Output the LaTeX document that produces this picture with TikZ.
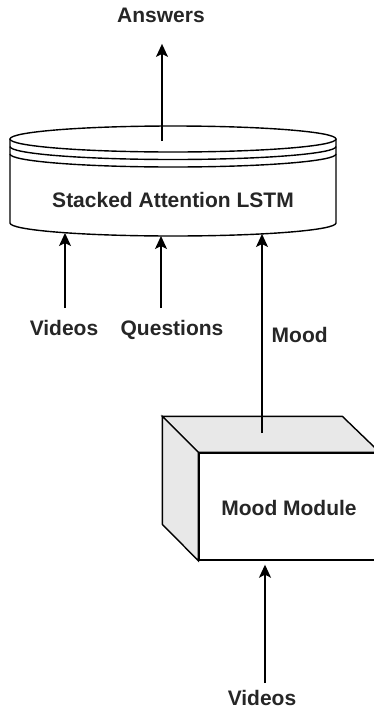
\documentclass[tikz,border=0pt]{standalone}
\usepackage{fontspec}
\setmainfont{Liberation Sans}
\usetikzlibrary{arrows.meta}

\begin{document}
\begin{tikzpicture}[x=1pt,y=1pt,line width=1.4pt,
  flow/.style={-{Stealth[length=13pt,width=12pt,inset=3pt]}},
  lbl/.style={font=\fontsize{21}{25}\selectfont\bfseries,text=black!85},
  face/.style={fill=black!9}]
\tikzstyle{every node}+=[inner sep=0pt]
\useasboundingbox (0,0) rectangle (374,-710);
% stacked attention LSTM (cylinder)
\draw (10,-139) -- (10,-223) arc[start angle=180,end angle=360,x radius=163pt,y radius=13pt] -- (336,-139);
\draw (173,-139) ellipse [x radius=163pt,y radius=13pt];
\draw (10,-146.5) arc[start angle=180,end angle=360,x radius=163pt,y radius=13pt];
\draw (10,-154) arc[start angle=180,end angle=360,x radius=163pt,y radius=13pt];
\draw (173,-207) node [lbl,anchor=base] (lstm) {Stacked Attention LSTM};
\coordinate (lstmTop) at (162,-141);
\coordinate (lstmIn1) at (65,-233);
\coordinate (lstmIn2) at (161,-236);
\coordinate (lstmIn3) at (262,-234);
% mood module (box)
\draw (289,-506.5) node [draw,fill=white,minimum width=180pt,minimum height=107pt] (mod) {};
\filldraw [face] (mod.north west) -- ++(-36,36) -- ++(180,0) -- (mod.north east) -- cycle;
\filldraw [face] (mod.north west) -- ++(-36,36) -- ++(0,-108) -- (mod.south west) -- cycle;
\draw (289,-515) node [lbl,anchor=base] (modtext) {Mood Module};
\coordinate (moodOut) at (262,-433);
% labels
\draw (161,-22) node [lbl,anchor=base] (ans) {Answers};
\draw (64,-335) node [lbl,anchor=base] (vid) {Videos};
\draw (172,-335) node [lbl,anchor=base] (qst) {Questions};
\draw (271,-342) node [lbl,anchor=base west] (mood) {Mood};
\draw (262,-705) node [lbl,anchor=base] (vidb) {Videos};
% arrows
\draw [flow,shorten <=0pt] (lstmTop) -- ([yshift=-21pt]ans.south -| lstmTop);
\draw [flow,shorten <=11pt] (vid.north -| lstmIn1) -- (lstmIn1);
\draw [flow,shorten <=11pt] (qst.north -| lstmIn2) -- (lstmIn2);
\draw [flow] (moodOut) -- (lstmIn3);
\draw [flow,shorten <=6pt,shorten >=4pt] ([xshift=3pt]vidb.north) -- ([xshift=3pt]vidb.north |- mod.south);
\end{tikzpicture}
\end{document}
